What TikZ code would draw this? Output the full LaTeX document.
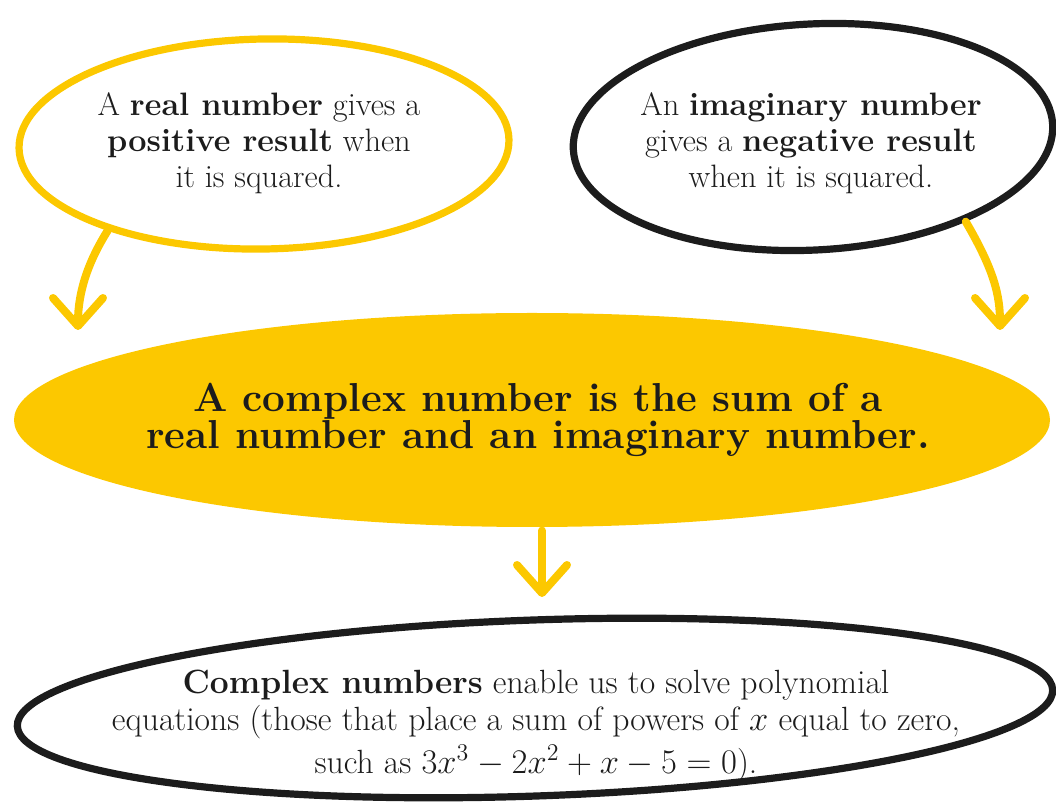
\documentclass[tikz,border=0pt]{standalone}
\usetikzlibrary{shapes.geometric,arrows.meta}
\definecolor{gold}{RGB}{252,200,0}
\definecolor{ink}{RGB}{28,28,28}
\begin{document}
\begin{tikzpicture}[x=.5pt,y=-.5pt,
  ring/.style={ellipse,inner sep=0pt,line width=3.6pt},
  blurb/.style={align=center,text=ink,font=\fontsize{16.2}{18}\selectfont},
  yarrow/.style={draw=gold,line width=4pt,line cap=round,
    -{Straight Barb[length=14pt,width=25pt,round]}}]
  \useasboundingbox (0,0) rectangle (1056,806);
  \node[ring,draw=gold,minimum width=245pt,minimum height=105pt,rotate=1] (realring) at (264,144) {};
  \node[ring,draw=ink,minimum width=240pt,minimum height=113pt,rotate=3] (imagring) at (813,137) {};
  \node[ring,fill=gold,minimum width=518pt,minimum height=107pt] (complex) at (532,420) {};
  \node[ring,draw=ink,minimum width=518pt,minimum height=88pt,rotate=2] (usering) at (535,708) {};
  \node[blurb] (realtext) at (259,143) {A \textbf{real number} gives a\\ \textbf{positive result} when\\ it is squared.};
  \node[blurb] (imagtext) at (811,143) {An \textbf{imaginary number}\\ gives a \textbf{negative result}\\ when it is squared.};
  \node[align=center,text=ink,font=\fontsize{20.2}{18.5}\selectfont\bfseries] (complextext) at (538,420)
    {A complex number is the sum of a\\ real number and an imaginary number.};
  \node[blurb,font=\fontsize{16.8}{18.5}\selectfont] (usetext) at (536,726)
    {\textbf{Complex numbers} enable us to solve polynomial\\ equations (those that place a sum of powers of $x$ equal to zero,\\[3pt] such as $3x^3-2x^2+x-5=0$).};
  \coordinate (tipL) at (78,330);
  \coordinate (tipR) at (1000,330);
  \coordinate (tipC) at (542,597);
  \draw[yarrow] (realring.208) .. controls (88,262) and (78,292) .. (tipL);
  \draw[yarrow] (imagring.328) .. controls (994,270) and (1000,295) .. (tipR);
  \draw[yarrow] (complex.south -| tipC) -- (tipC);
\end{tikzpicture}
\end{document}
